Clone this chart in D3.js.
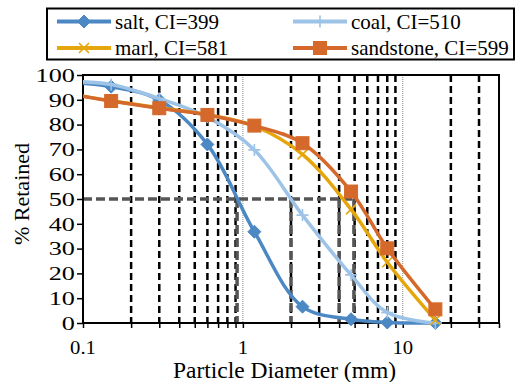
<!DOCTYPE html>
<html>
<head>
<meta charset="utf-8">
<script src="https://cdn.jsdelivr.net/npm/d3@7"></script>
<style>
  html, body { margin: 0; padding: 0; background: #fff; }
  svg { display: block; }
</style>
</head>
<body>
<svg id="chart" width="516" height="382"></svg>
<script>
// Sieve opening sizes (mm) and cumulative percent retained per rock type
const sizes = [0.075, 0.15, 0.3, 0.6, 1.18, 2.36, 4.75, 8, 16];
const salt = [97.2, 95.3, 89.9, 72, 36.8, 6.6, 1.5, 0.2, 0];
const coal = [97.4, 96.2, 90.5, 83, 69.8, 43.5, 19.4, 4.2, 0];
const marl = [92.8, 89.6, 86.8, 84, 79.4, 68, 45.8, 24.5, 1.2];
const sandstone = [92.9, 89.5, 86.6, 83.9, 79.6, 72.5, 53, 30.1, 5.5];

const seriesNames = ["salt, CI=399", "coal, CI=510", "marl, CI=581", "sandstone, CI=599"];
const seriesColors = ["#4C88C3", "#9DC3E6", "#E5A60C", "#D4692B"];
const seriesMarkers = ["diamond", "plus", "cross", "square"];

// D50 (size at 50 % retained) for each series
const d50 = [0.92, 2.0, 4.0, 4.95];
const d50Level = 50;

// Axis ticks
const yTicks = [0, 10, 20, 30, 40, 50, 60, 70, 80, 90, 100];
const xLabelTicks = [0.1, 1, 10];
const xMajorGrid = [1, 10];
const xMinorGrid = [0.2, 0.3, 0.4, 0.5, 0.6, 0.7, 0.8, 0.9, 2, 3, 4, 5, 6, 7, 8, 9, 20, 30];
const xTickMarks = [0.1, 0.2, 0.3, 0.4, 0.5, 0.6, 0.7, 0.8, 0.9, 1, 2, 3, 4, 5, 6, 7, 8, 9, 10, 20, 30, 40];

const FONT = "Liberation Serif";

const series = [salt, coal, marl, sandstone].map((vals, i) => ({
  name: seriesNames[i], color: seriesColors[i], marker: seriesMarkers[i],
  points: sizes.map((s, j) => ({ x: s, y: vals[j] }))
}));

const svg = d3.select("#chart");
const plot = { left: 83, right: 499, top: 75, bottom: 323 };

const x = d3.scaleLog().domain([0.1, 40]).range([plot.left, plot.right]);
const y = d3.scaleLinear().domain([0, 100]).range([plot.bottom, plot.top]);

svg.append("defs").append("clipPath").attr("id", "plotClip")
  .append("rect")
  .attr("x", plot.left).attr("y", plot.top - 8)
  .attr("width", plot.right - plot.left).attr("height", plot.bottom - plot.top + 16);

// Minor vertical gridlines (dashed black)
svg.append("g").selectAll("line").data(xMinorGrid).join("line")
  .attr("x1", d => x(d)).attr("x2", d => x(d))
  .attr("y1", plot.top).attr("y2", plot.bottom)
  .attr("stroke", "#000").attr("stroke-width", 2.5)
  .attr("stroke-dasharray", "7,4");

// Major vertical gridlines (thin dotted grey)
svg.append("g").selectAll("line").data(xMajorGrid).join("line")
  .attr("x1", d => x(d)).attr("x2", d => x(d))
  .attr("y1", plot.top).attr("y2", plot.bottom)
  .attr("stroke", "#888").attr("stroke-width", 1)
  .attr("stroke-dasharray", "1,1");

// D50 guide lines
const guides = svg.append("g")
  .attr("stroke", "#555").attr("stroke-width", 3.5)
  .attr("stroke-dasharray", "9,4").attr("fill", "none");
guides.append("line")
  .attr("x1", x(0.1)).attr("x2", x(d3.max(d50)))
  .attr("y1", y(d50Level)).attr("y2", y(d50Level));
guides.selectAll("line.v").data(d50).join("line").attr("class", "v")
  .attr("x1", d => x(d)).attr("x2", d => x(d))
  .attr("y1", y(d50Level)).attr("y2", y(0));

// Axes
const xAxis = d3.axisBottom(x).tickValues(xTickMarks).tickSize(5).tickFormat("");
const gx = svg.append("g").attr("transform", `translate(0,${plot.bottom})`).call(xAxis);
gx.select(".domain").remove();
gx.selectAll(".tick line").attr("stroke", "#000").attr("stroke-width", 1.5);

const yAxis = d3.axisLeft(y).tickValues(yTicks).tickSize(6).tickPadding(0).tickFormat(d3.format("d"));
const gy = svg.append("g").attr("transform", `translate(${plot.left},0)`).call(yAxis);
gy.attr("font-family", null).attr("font-size", null);
gy.select(".domain").remove();
gy.selectAll(".tick line").attr("stroke", "#000").attr("stroke-width", 1.5);
// y labels are set in a wide face: stretch horizontally about their right edge
gy.selectAll(".tick text")
  .attr("x", 0).attr("dy", "0.34em")
  .attr("transform", "translate(-8,0) scale(1.42,1)")
  .style("font-family", FONT).style("font-size", "18.5px")
  .attr("fill", "#000");

svg.append("g").selectAll("text").data(xLabelTicks).join("text")
  .attr("transform", d => `translate(${x(d)},354) scale(1.12,1)`)
  .attr("text-anchor", "middle")
  .style("font-family", FONT).style("font-size", "18.5px")
  .text(d => d3.format("~g")(d));

// Plot frame
svg.append("rect")
  .attr("x", plot.left).attr("y", plot.top)
  .attr("width", plot.right - plot.left).attr("height", plot.bottom - plot.top)
  .attr("fill", "none").attr("stroke", "#000").attr("stroke-width", 2);

// Axis titles
svg.append("text")
  .attr("x", 284.5).attr("y", 378)
  .attr("text-anchor", "middle")
  .style("font-family", FONT).style("font-size", "23.5px")
  .text("Particle Diameter (mm)");
svg.append("text")
  .attr("transform", "translate(28.5,194) rotate(-90)")
  .attr("text-anchor", "middle")
  .style("font-family", FONT).style("font-size", "22px")
  .text("% Retained");

// Marker drawing
function drawMarker(sel, type, color) {
  if (type === "diamond") {
    sel.append("path").attr("d", "M0,-6.5L6.5,0L0,6.5L-6.5,0Z")
      .attr("fill", color).attr("stroke", color).attr("stroke-width", 1);
  } else if (type === "square") {
    sel.append("rect").attr("x", -6.5).attr("y", -6.5).attr("width", 13).attr("height", 13)
      .attr("fill", color).attr("stroke", color).attr("stroke-width", 1);
  } else if (type === "plus") {
    sel.append("path").attr("d", "M-6,0H6M0,-6V6")
      .attr("stroke", color).attr("stroke-width", 1.6).attr("fill", "none");
  } else if (type === "cross") {
    sel.append("path").attr("d", "M-5,-5L5,5M-5,5L5,-5")
      .attr("stroke", color).attr("stroke-width", 1.6).attr("fill", "none");
  }
}

const line = d3.line()
  .x(d => x(d.x)).y(d => y(d.y))
  .curve(d3.curveCatmullRom.alpha(0.5));

const dataLayer = svg.append("g").attr("clip-path", "url(#plotClip)");
series.forEach(s => {
  const g = dataLayer.append("g");
  g.append("path").datum(s.points)
    .attr("d", line).attr("fill", "none")
    .attr("stroke", s.color).attr("stroke-width", 3.5)
    .attr("stroke-linejoin", "round");
  g.selectAll("g.m").data(s.points.filter(p => p.x >= 0.1)).join("g").attr("class", "m")
    .attr("transform", d => `translate(${x(d.x)},${y(d.y)})`)
    .each(function () { drawMarker(d3.select(this), s.marker, s.color); });
});

// Legend
const legend = svg.append("g");
legend.append("rect")
  .attr("x", 47).attr("y", 8.5).attr("width", 467).attr("height", 51)
  .attr("fill", "#fff").attr("stroke", "#000").attr("stroke-width", 2);
const legendPos = [
  { lx: 57, ly: 21.5 }, { lx: 293, ly: 21.5 },
  { lx: 57, ly: 48 }, { lx: 293, ly: 48 }
];
series.forEach((s, i) => {
  const p = legendPos[i];
  const g = legend.append("g");
  g.append("line").attr("x1", p.lx).attr("x2", p.lx + 54)
    .attr("y1", p.ly).attr("y2", p.ly)
    .attr("stroke", s.color).attr("stroke-width", 4);
  const m = g.append("g").attr("transform", `translate(${p.lx + 27},${p.ly})`);
  drawMarker(m, s.marker, s.color);
  g.append("text").attr("x", p.lx + 58).attr("y", p.ly + 7)
    .style("font-family", FONT).style("font-size", "21px")
    .text(s.name);
});
</script>
</body>
</html>
